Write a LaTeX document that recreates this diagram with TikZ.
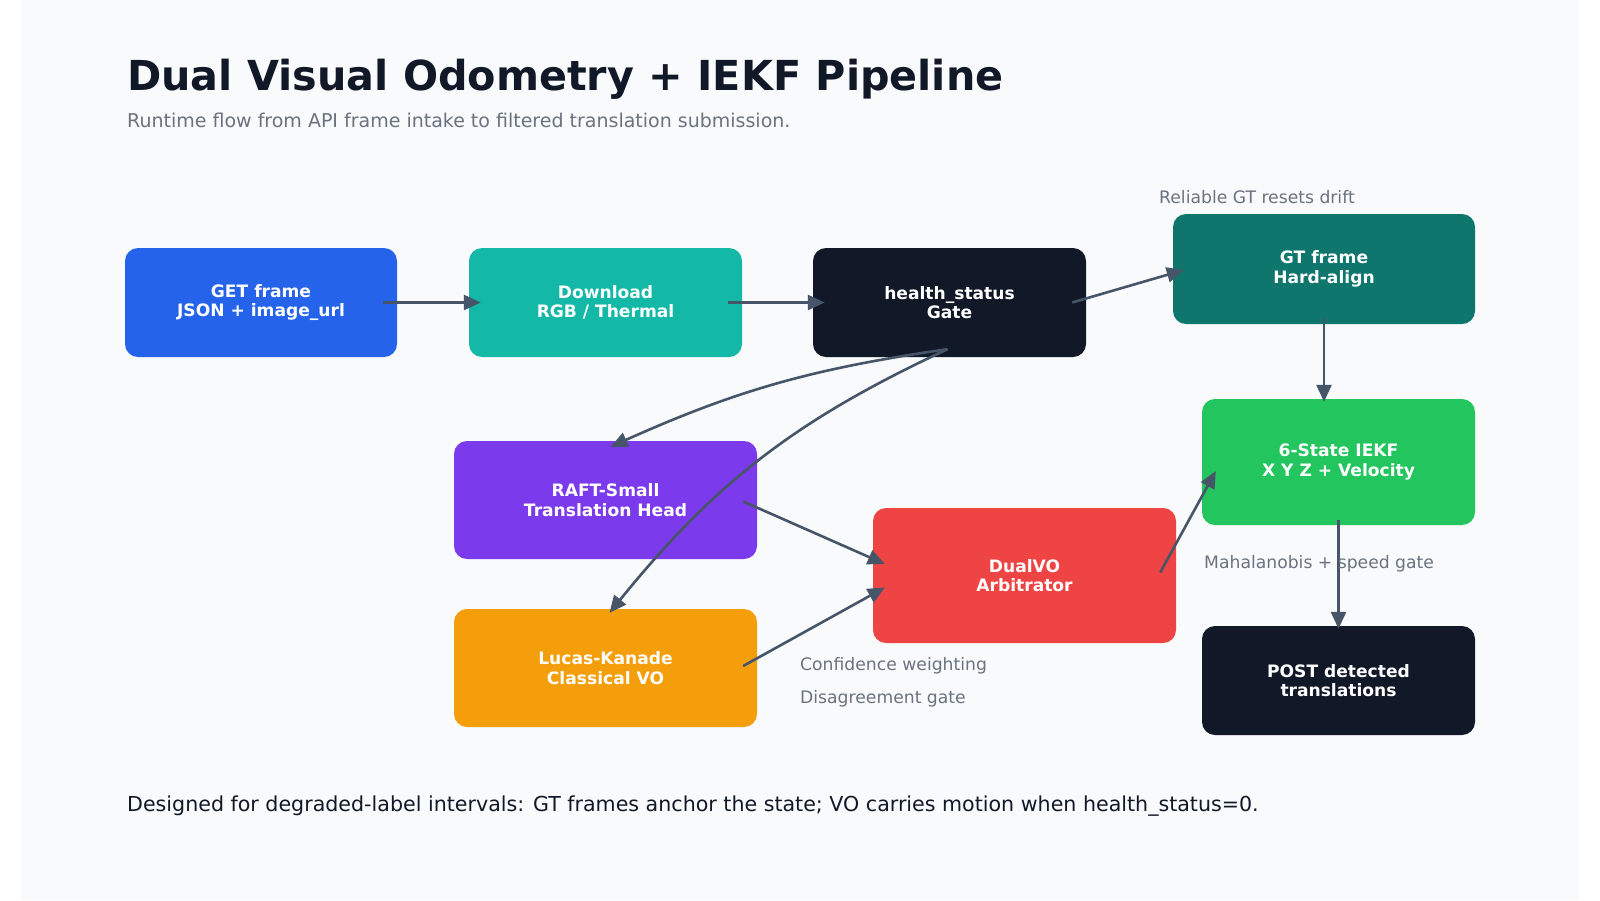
\documentclass[tikz,border=0pt]{standalone}
\usepackage{fontspec}
\setmainfont{DejaVu Sans}
\usetikzlibrary{arrows.meta,calc}
\definecolor{bgc}{HTML}{F8FAFC}
\definecolor{cget}{HTML}{2563EB}
\definecolor{cdl}{HTML}{14B8A6}
\definecolor{cdark}{HTML}{111827}
\definecolor{cgt}{HTML}{0F766E}
\definecolor{ciekf}{HTML}{22C55E}
\definecolor{craft}{HTML}{7C3AED}
\definecolor{clk}{HTML}{F59E0B}
\definecolor{cdv}{HTML}{EF4444}
\definecolor{carrow}{HTML}{475569}
\definecolor{cmuted}{HTML}{6B7280}
\begin{document}
\begin{tikzpicture}[x=1pt,y=-1pt,
  box/.style={rounded corners=13pt, inner sep=0pt, align=center, text=white,
    font=\fontsize{17.1}{19.4}\selectfont\bfseries},
  flow/.style={draw=carrow, line width=2.6pt,
    -{Triangle[length=17pt,width=15pt]}},
  note/.style={anchor=base west, text=cmuted, inner sep=0pt,
    font=\fontsize{17.2}{20}\selectfont}]
\useasboundingbox (0,0) rectangle (1600,900);
\fill[white] (0,0) rectangle (1600,900);
\fill[bgc] (21,0) rectangle (1579,900);

% title
\node[anchor=base west, inner sep=0pt, text=cdark, font=\fontsize{41.3}{48}\selectfont\bfseries] (title) at (127,90) {Dual Visual Odometry + IEKF Pipeline};
\node[anchor=base west, inner sep=0pt, text=cmuted, font=\fontsize{19}{23}\selectfont] (sub) at (127,127) {Runtime flow from API frame intake to filtered translation submission.};

% boxes
\node[box, fill=cget, minimum width=272pt, minimum height=109pt] (get) at (261,302.5) {GET frame\\JSON + image\_url};
\node[box, fill=cdl, minimum width=273pt, minimum height=109pt] (dl) at (605.5,302.5) {Download\\RGB / Thermal};
\node[box, fill=cdark, minimum width=273pt, minimum height=109pt] (hs) at (949.5,302.5) {health\_status\\Gate};
\node[box, fill=cgt, minimum width=302pt, minimum height=110pt] (gt) at (1324,269) {GT frame\\Hard-align};
\node[box, fill=craft, minimum width=303pt, minimum height=118pt] (raft) at (605.5,500) {RAFT-Small\\Translation Head};
\node[box, fill=clk, minimum width=303pt, minimum height=118pt] (lk) at (605.5,668) {Lucas-Kanade\\Classical VO};
\node[box, fill=cdv, minimum width=303pt, minimum height=135pt] (dv) at (1024.5,575.5) {DualVO\\Arbitrator};
\node[box, fill=ciekf, minimum width=273pt, minimum height=126pt] (iekf) at (1338.5,462) {6-State IEKF\\X Y Z + Velocity};
\node[box, fill=cdark, minimum width=273pt, minimum height=109pt] (post) at (1338.5,680.5) {POST detected\\translations};

% notes
\node[note] (n1) at (1159,203) {Reliable GT resets drift};
\node[note] (n2) at (800,670) {Confidence weighting};
\node[note] (n3) at (800,703) {Disagreement gate};

% connector end points
\coordinate (getO) at ($(get.east)+(-14,0)$);
\coordinate (dlI) at ($(dl.west)+(12,0)$);
\coordinate (dlO) at ($(dl.east)+(-14,0)$);
\coordinate (hsI) at ($(hs.west)+(12,0)$);
\coordinate (hsO) at ($(hs.east)+(-14,0)$);
\coordinate (hsB) at ($(hs.south)+(-2,-8)$);
\coordinate (gtI) at ($(gt.west)+(11,1)$);
\coordinate (gtO) at ($(gt.south)+(0,-6)$);
\coordinate (iekfT) at ($(gt.south |- iekf.north)+(0,3)$);
\coordinate (iekfL) at ($(iekf.west)+(14,9)$);
\coordinate (iekfO) at ($(iekf.south)+(0,-5)$);
\coordinate (postI) at ($(post.north)+(0,3)$);
\coordinate (raftT) at ($(raft.north)+(5,6)$);
\coordinate (raftO) at ($(raft.east)+(-14,1.5)$);
\coordinate (lkT) at ($(lk.north)+(4,4)$);
\coordinate (lkO) at ($(lk.east)+(-14,-2)$);
\coordinate (dvA) at ($(dv.west)+(12,-11.5)$);
\coordinate (dvB) at ($(dv.west)+(12,12)$);
\coordinate (dvO) at ($(dv.east)+(-16,-3)$);

% connectors
\draw[flow] (getO) -- (dlI);
\draw[flow] (dlO) -- (hsI);
\draw[flow] (hsO) -- (gtI);
\draw[flow] (gtO) -- (iekfT);
\draw[flow] (hsB) to[bend right=8] (raftT);
\draw[flow] (hsB) to[bend right=13] (lkT);
\draw[flow] (raftO) -- (dvA);
\draw[flow] (lkO) -- (dvB);
\draw[flow] (dvO) -- (iekfL);
\draw[flow] (iekfO) -- (postI);

\node[note] (n4) at (1204,568) {Mahalanobis + speed gate};

% footer
\node[anchor=base west, inner sep=0pt, text=cdark, font=\fontsize{20.6}{24}\selectfont] (foot) at (127,811) {Designed for degraded-label intervals: GT frames anchor the state; VO carries motion when health\_status=0.};
\end{tikzpicture}
\end{document}
